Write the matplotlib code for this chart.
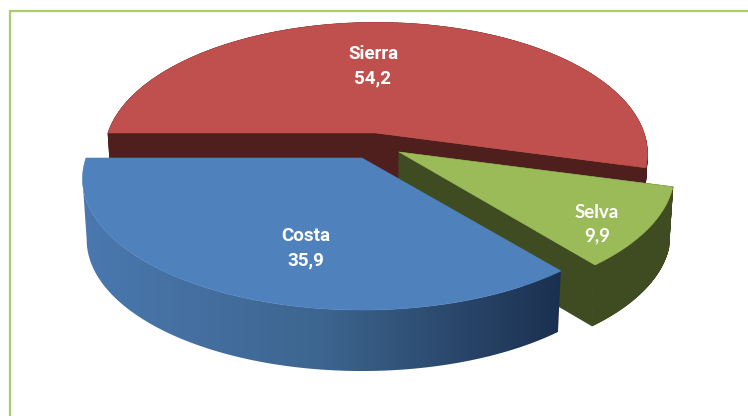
import numpy as np
import matplotlib
matplotlib.use("Agg")
import matplotlib.pyplot as plt
from matplotlib.patches import Polygon
from matplotlib.collections import PolyCollection
from matplotlib.colors import LinearSegmentedColormap

names = ["Sierra", "Selva", "Costa"]
values = [54.2, 9.9, 35.9]
top_colors = ["#C0504D", "#9BBB59", "#4F81BD"]
wall_colors = ["#4F1F1E", "#3F4C21", None]

# apex of every slice in pixels, slices are pulled apart so they differ
centers = [(376, 133), (399, 152), (362, 158)]
radius_x = [268, 272, 276]
label_pos = [(373, 66), (597, 224), (306, 248)]
label_fonts = ["Roboto", "Lato", "Roboto"]
label_spacing = [1.42, 1.5, 1.42]

RY = 128      # ellipse half height
PERSP = 0.158 # front of the pie looks bigger than the back
DEPTH = 61
BOTTOM_SCALE = 0.985


def project(center, rx, t, bottom=False):
    # t in radians, 90 deg is the back of the pie
    w = 1 + PERSP * np.sin(t)
    s = BOTTOM_SCALE if bottom else 1
    x = center[0] + s * rx * np.cos(t) / w
    y = center[1] - RY * np.sin(t) / w + (DEPTH if bottom else 0)
    return x, y


fig = plt.figure(figsize=(7.48, 4.16), dpi=100)
ax = fig.add_axes([0, 0, 1, 1])
ax.set_xlim(0, 748)
ax.set_ylim(416, 0)
ax.axis("off")

# frame, only left and top are in the crop
ax.plot([10, 10, 748], [416, 11, 11], color="#A9CC72", lw=1.6, solid_joinstyle="miter")

blue_wall = LinearSegmentedColormap.from_list("wall", ["#4A78AF", "#3D658F", "#1B3050"])

start = 180.0
for i in range(len(values)):
    sweep = values[i] / sum(values) * 360
    t = np.radians(np.linspace(start, start - sweep, 200))
    start = start - sweep
    c = centers[i]
    rx = radius_x[i]
    x_top, y_top = project(c, rx, t)
    x_bot, y_bot = project(c, rx, t, bottom=True)
    base = (c[0], c[1] + DEPTH)

    if wall_colors[i] is not None:
        # cut faces plus the outer wall, all one flat dark colour
        for k in [0, -1]:
            ax.add_patch(Polygon([c, (x_top[k], y_top[k]), (x_bot[k], y_bot[k]), base],
                                 fc=wall_colors[i], ec=wall_colors[i], lw=0.5, zorder=i * 3 + 1))
        quads = [[(x_top[k], y_top[k]), (x_top[k + 1], y_top[k + 1]),
                  (x_bot[k + 1], y_bot[k + 1]), (x_bot[k], y_bot[k])] for k in range(len(t) - 1)]
        ax.add_collection(PolyCollection(quads, facecolors=wall_colors[i], edgecolors=wall_colors[i],
                                         linewidths=0.5, zorder=i * 3 + 1))
    else:
        # outer wall with left to right shading, gradient image clipped to the wall
        # this slice runs right to left, outline stops at the leftmost point so no notch
        k0 = np.argmin(x_top) + 1
        wall = Polygon(list(zip(x_top[:k0], y_top[:k0])) + list(zip(x_bot[:k0][::-1], y_bot[:k0][::-1])),
                       fc="none", ec="none", transform=ax.transData)
        ax.add_patch(wall)
        grad = np.linspace(0, 1, 256).reshape(1, -1)
        im = ax.imshow(grad, cmap=blue_wall, aspect="auto", zorder=i * 3 + 1,
                       extent=[x_top.min(), x_top.max(), y_bot.max(), y_top.min()])
        im.set_clip_path(wall)
        ax.set_xlim(0, 748)
        ax.set_ylim(416, 0)

    ax.add_patch(Polygon([c] + list(zip(x_top, y_top)), fc=top_colors[i], ec=top_colors[i],
                         lw=0.4, zorder=i * 3 + 2))

    ax.text(label_pos[i][0], label_pos[i][1], names[i] + "\n" + str(values[i]).replace(".", ","),
            color="white", fontsize=13.5, fontweight="bold", ha="center", va="center",
            family=label_fonts[i], linespacing=label_spacing[i], zorder=20)

fig.savefig("out.png", dpi=100)
